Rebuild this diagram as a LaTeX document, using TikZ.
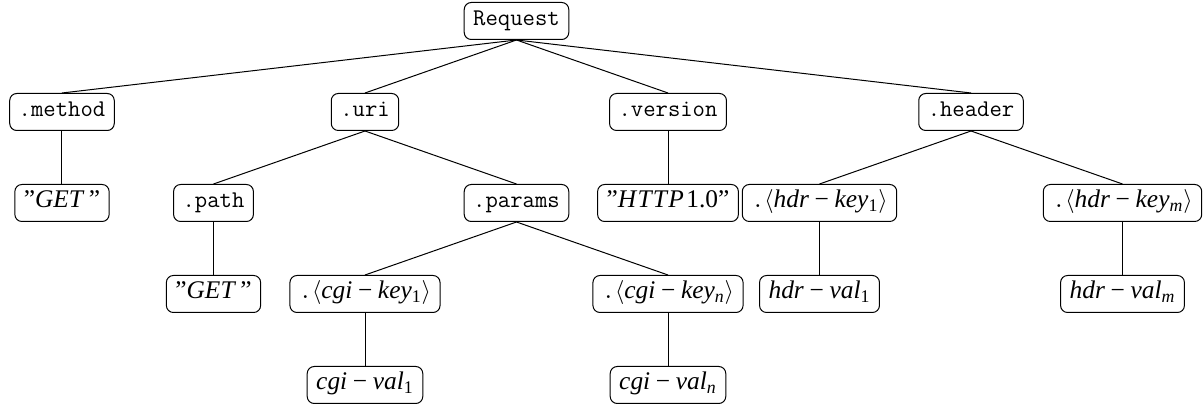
\documentclass[tikz,border=0pt]{standalone}
\usepackage{fontspec}
\setmainfont{Liberation Serif}
% italic identifiers with an upright minus, as in a formula
\newcommand\idm{\hspace{0.222em}\textup{−}\hspace{0.222em}}
\newcommand\idsub[1]{\textsubscript{#1}}
\begin{document}
\begin{tikzpicture}[x=75.75pt, y=-45.5pt,
  box/.style={draw, rounded corners=3.5pt, line width=0.5pt,
    inner xsep=4.5pt, inner ysep=4.25pt,
    text height=7.5pt, text depth=2.5pt,
    font=\fontsize{12.7}{14}\selectfont},
  ttbox/.style={box, font=\ttfamily\fontsize{12}{14}\selectfont},
  link/.style={line width=0.5pt}]
  \useasboundingbox (-31pt,10.5pt) rectangle (570.5pt,-194.5pt);

  % row 0
  \node[ttbox] (req) at (3,0) {Request};
  % row 1
  \node[ttbox] (method)  at (0,1) {.method};
  \node[ttbox] (uri)     at (2,1) {.uri};
  \node[ttbox] (version) at (4,1) {.version};
  \node[ttbox] (header)  at (6,1) {.header};
  % row 2
  \node[box]   (get1)    at (0,2) {''\textit{GET}\,''};
  \node[ttbox] (path)    at (1,2) {.path};
  \node[ttbox] (params)  at (3,2) {.params};
  \node[box]   (http)    at (4,2) {''\textit{H\kern0.05em T\kern0.05em T\kern0.05em P}\kern0.1em 1.0''};
  \node[box]   (hkey1)   at (5,2) {{\ttfamily .}$\langle$\textit{hdr}\idm\textit{key}\idsub{1}$\rangle$};
  \node[box]   (hkeym)   at (7,2) {{\ttfamily .}$\langle$\textit{hdr}\idm\textit{key}\idsub{\itshape m}$\rangle$};
  % row 3
  \node[box]   (get2)    at (1,3) {''\textit{GET}\,''};
  \node[box]   (ckey1)   at (2,3) {{\ttfamily .}$\langle$\textit{cgi}\idm\textit{key}\idsub{1}$\rangle$};
  \node[box]   (ckeyn)   at (4,3) {{\ttfamily .}$\langle$\textit{cgi}\idm\textit{key}\idsub{\itshape n}$\rangle$};
  \node[box]   (hval1)   at (5,3) {\textit{hdr}\idm\textit{val}\idsub{1}};
  \node[box]   (hvalm)   at (7,3) {\textit{hdr}\idm\textit{val}\idsub{\itshape m}};
  % row 4
  \node[box]   (cval1)   at (2,4) {\textit{cgi}\idm\textit{val}\idsub{1}};
  \node[box]   (cvaln)   at (4,4) {\textit{cgi}\idm\textit{val}\idsub{\itshape n}};

  % tree edges
  \foreach \p/\c in {req/method, req/uri, req/version, req/header,
                     method/get1, uri/path, uri/params, version/http,
                     header/hkey1, header/hkeym, path/get2,
                     params/ckey1, params/ckeyn, hkey1/hval1, hkeym/hvalm,
                     ckey1/cval1, ckeyn/cvaln}
    \draw[link] (\p.south) -- (\c.north);
\end{tikzpicture}
\end{document}
